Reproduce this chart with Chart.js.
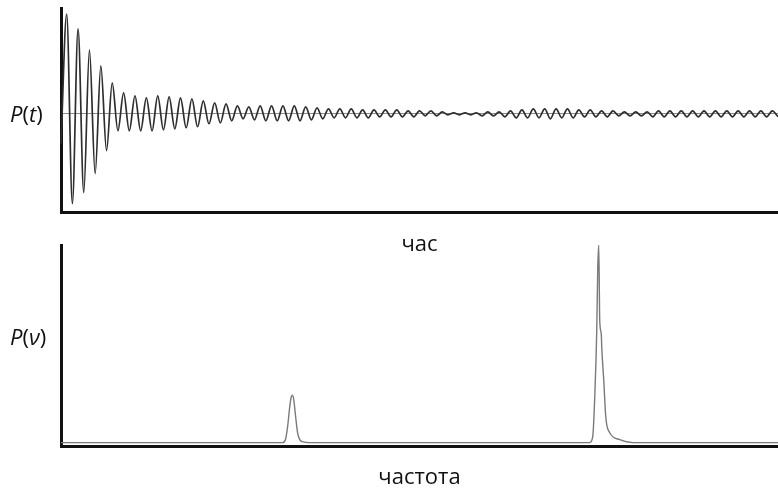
<!DOCTYPE html>
<html>
<head>
<meta charset="utf-8">
<script src="https://cdn.jsdelivr.net/npm/chart.js@4.4.1/dist/chart.umd.min.js"></script>
<style>
  html, body { margin: 0; padding: 0; background: #fff; overflow: hidden; }
  body { width: 778px; height: 488px; position: relative; font-family: "Open Sans", sans-serif; }
  .box { position: absolute; left: 0; width: 778px; }
  #top { top: 0; height: 258px; }
  #bottom { top: 232px; height: 262px; }
  .ylab { position: absolute; left: 10px; font-size: 22px; color: #111; line-height: 1; }
</style>
</head>
<body>
<div class="box" id="top"><canvas id="chartTime"></canvas></div>
<div class="box" id="bottom"><canvas id="chartFreq"></canvas></div>
<div class="ylab" style="top:102px"><i>P</i>(<i>t</i>)</div>
<div class="ylab" style="top:325px"><i>P</i>(<i>ν</i>)</div>
<script>
// сигнал у часі: вершини та западини коливань
var signalStart = -30;
var signalPeaks = [100, 85, 64, 48, 31, 21, 18, 16, 18, 17, 16, 15, 13, 11, 10, 8, 7, 8, 8, 8,
                   8, 7, 6, 5, 5, 5, 4, 4, 4, 4, 3, 3, 3, 2, 1, 1, 1, 2, 2, 3,
                   4, 5, 5, 5, 5, 4, 4, 3, 3, 2, 2, 2, 3, 3, 3, 3, 3, 3, 3, 3,
                   3, 3, 3];
var signalTroughs = [-90, -79, -60, -37, -17, -17, -17, -17, -16, -15, -14, -13, -10, -9, -7, -5, -6, -7, -7, -7,
                     -7, -6, -5, -4, -4, -4, -4, -3, -3, -3, -3, -2, -2, -1, -1, -1, -2, -2, -3, -4,
                     -4, -4, -5, -4, -4, -3, -3, -3, -2, -2, -2, -3, -3, -3, -3, -3, -3, -3, -3, -3,
                     -3, -3, -3];

// спектр: частота та потужність
var specFreq = [0, 10, 20, 30.9, 31.3, 31.6, 31.9, 32.1, 32.26, 32.45, 32.7, 33.0, 33.3, 33.7, 34.6, 45, 60,
                73.74, 74.16, 74.44, 74.72, 74.86, 75.0, 75.14, 75.35, 75.42, 75.70, 75.98, 76.54, 77.93, 79.75, 90, 100];
var specPower = [4, 4, 4, 4, 7, 20, 40, 50, 52, 48, 32, 14, 7, 5, 4, 4, 4,
                 4, 10, 50, 117, 180, 204, 127, 114, 100, 67, 30, 14, 7, 4, 4, 4];

var signal = [signalStart];
for (var i = 0; i < signalPeaks.length; i++) {
    signal.push(signalPeaks[i]);
    signal.push(signalTroughs[i]);
}
var timeLabels = signal.map(function(v, i) { return i; });

var spectrum = specFreq.map(function(f, i) { return { x: f, y: specPower[i] }; });

var axisFont = { family: '"Open Sans", sans-serif', size: 22 };

new Chart(document.getElementById('chartTime'), {
    type: 'line',
    data: {
        labels: timeLabels,
        datasets: [{
            data: signal,
            borderColor: '#2e2e2e',
            borderWidth: 1.7,
            pointRadius: 0,
            cubicInterpolationMode: 'monotone'
        }]
    },
    options: {
        responsive: true,
        maintainAspectRatio: false,
        animation: false,
        layout: { padding: { left: 61, top: 8, right: 0, bottom: 0 } },
        plugins: { legend: { display: false }, tooltip: { enabled: false } },
        scales: {
            x: {
                offset: false,
                ticks: { display: false },
                grid: { display: false, drawTicks: false },
                border: { display: true, color: '#111', width: 3 },
                title: { display: true, text: 'час', color: '#111', font: axisFont, padding: { top: 19, bottom: 0 } }
            },
            y: {
                min: -99,
                max: 106,
                afterBuildTicks: function(scale) { scale.ticks = [{ value: 0 }]; },
                ticks: { display: false },
                grid: { color: '#8a8a9a', lineWidth: 1, drawTicks: false },
                border: { display: true, color: '#111', width: 3 }
            }
        }
    }
});

new Chart(document.getElementById('chartFreq'), {
    type: 'line',
    data: {
        datasets: [{
            data: spectrum,
            borderColor: '#7a7a7a',
            borderWidth: 1.4,
            pointRadius: 0,
            cubicInterpolationMode: 'monotone'
        }]
    },
    options: {
        responsive: true,
        maintainAspectRatio: false,
        animation: false,
        layout: { padding: { left: 61, top: 13, right: 0, bottom: 0 } },
        plugins: { legend: { display: false }, tooltip: { enabled: false } },
        scales: {
            x: {
                type: 'linear',
                min: 0,
                max: 100,
                ticks: { display: false },
                grid: { display: false, drawTicks: false },
                border: { display: true, color: '#111', width: 3 },
                title: { display: true, text: 'частота', color: '#111', font: axisFont, padding: { top: 18, bottom: 3 } }
            },
            y: {
                min: 0,
                max: 204,
                ticks: { display: false },
                grid: { display: false, drawTicks: false },
                border: { display: true, color: '#111', width: 3 }
            }
        }
    }
});
</script>
</body>
</html>
